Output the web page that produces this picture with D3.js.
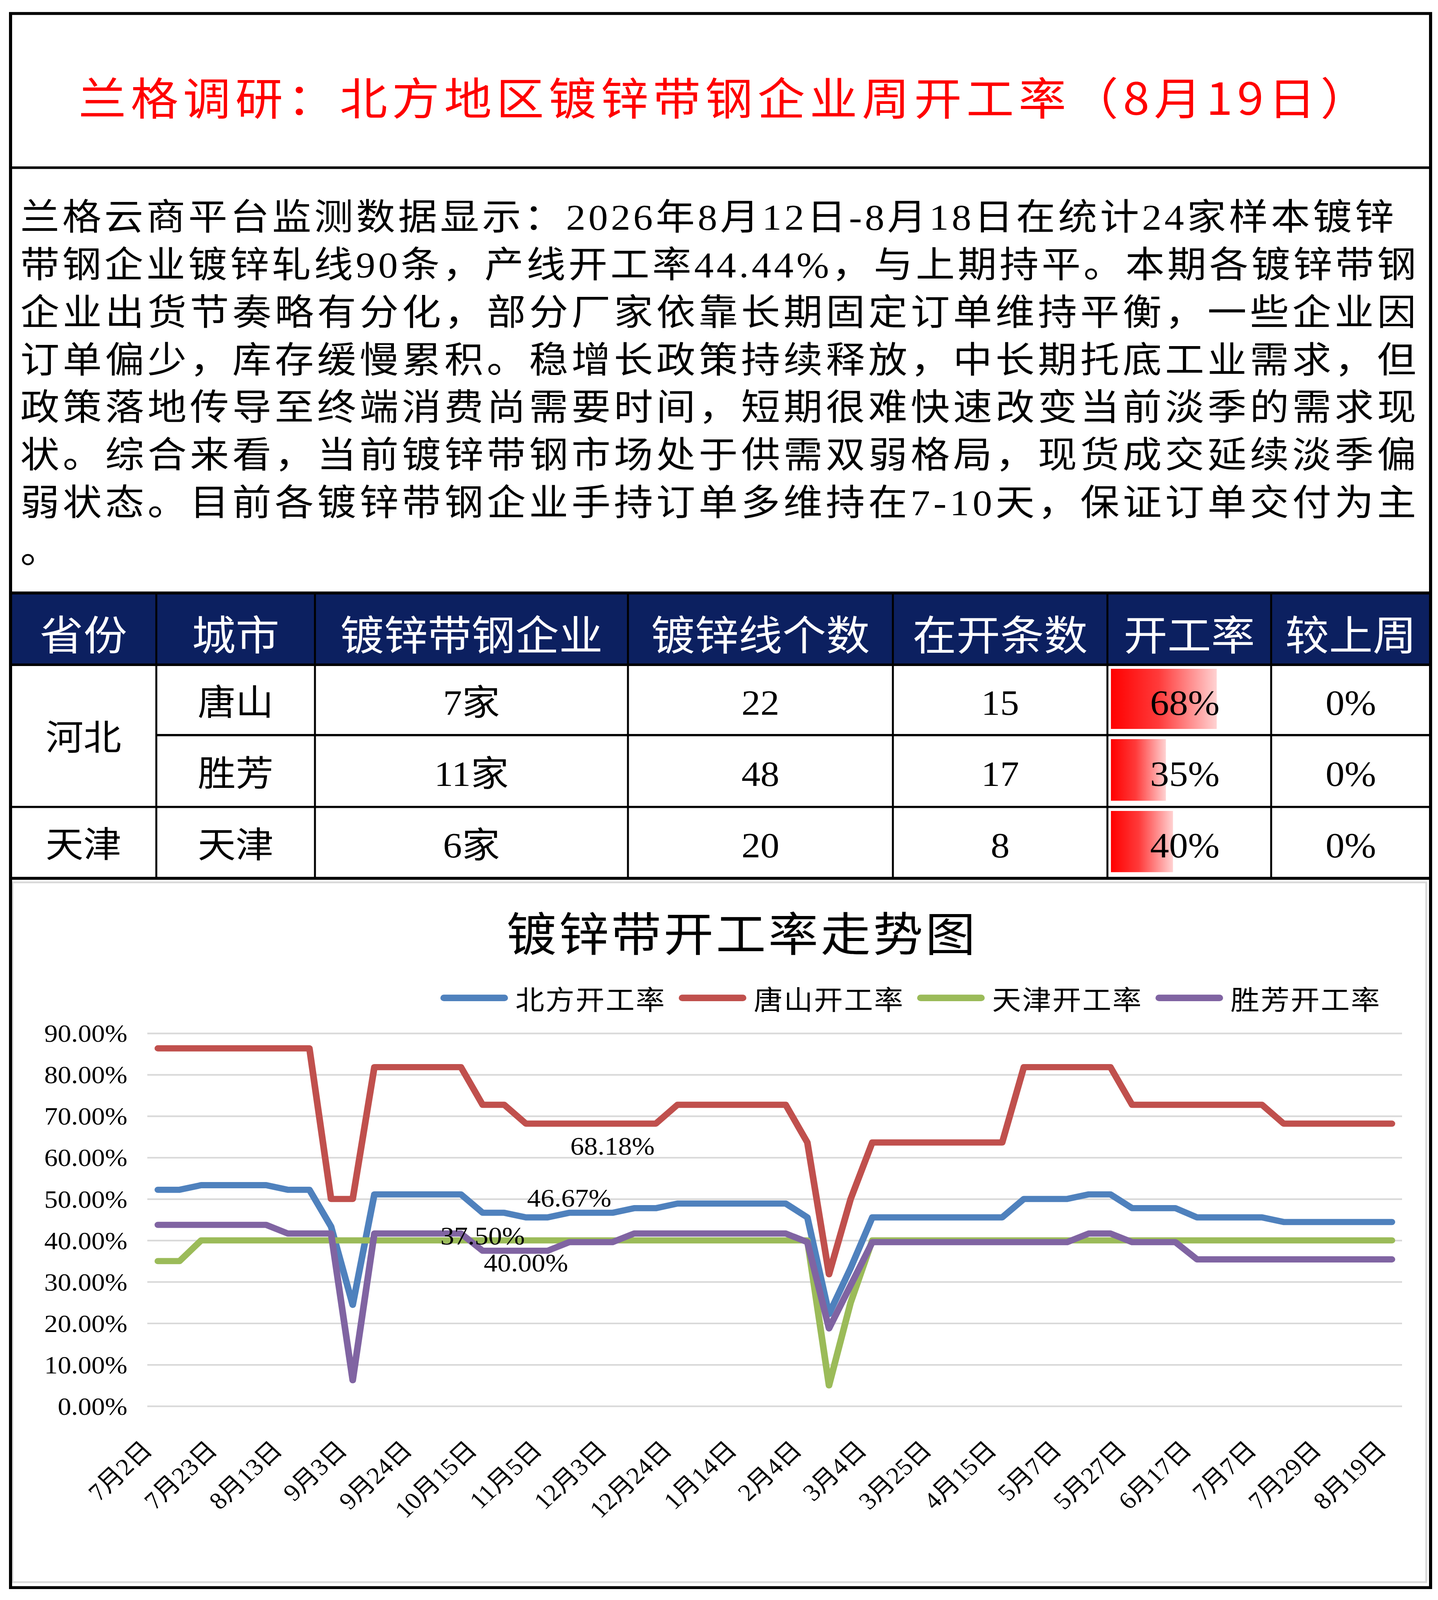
<!DOCTYPE html>
<html><head><meta charset="utf-8">
<script src="https://cdn.jsdelivr.net/npm/d3@7"></script>
<style>
html,body{margin:0;padding:0;background:#fff;width:100%;height:100%;overflow:hidden}
#c{display:block;width:100vw;height:100vh}
</style>
</head><body>
<svg id="c" viewBox="0 0 3680 4390" preserveAspectRatio="none" xmlns="http://www.w3.org/2000/svg"></svg>
<script>
// ---------------- DATA ----------------
const titleText = "兰格调研：北方地区镀锌带钢企业周开工率（8月19日）";
const paragraphLines = [
  "兰格云商平台监测数据显示：2026年8月12日-8月18日在统计24家样本镀锌",
  "带钢企业镀锌轧线90条，产线开工率44.44%，与上期持平。本期各镀锌带钢",
  "企业出货节奏略有分化，部分厂家依靠长期固定订单维持平衡，一些企业因",
  "订单偏少，库存缓慢累积。稳增长政策持续释放，中长期托底工业需求，但",
  "政策落地传导至终端消费尚需要时间，短期很难快速改变当前淡季的需求现",
  "状。综合来看，当前镀锌带钢市场处于供需双弱格局，现货成交延续淡季偏",
  "弱状态。目前各镀锌带钢企业手持订单多维持在7-10天，保证订单交付为主",
  "。"
];
const tableHeaders = ["省份","城市","镀锌带钢企业","镀锌线个数","在开条数","开工率","较上周"];
const provinces = ["河北","天津"];
const provinceRowSpan = [2,1];
const cities = ["唐山","胜芳","天津"];
const companies = ["7家","11家","6家"];
const lineCounts = [22,48,20];
const openCounts = [15,17,8];
const openRates = [0.6818,0.3542,0.40];
const weekChange = ["0%","0%","0%"];

const chartTitle = "镀锌带开工率走势图";
const seriesNames = ["北方开工率","唐山开工率","天津开工率","胜芳开工率"];
const northRate = [52.22,52.22,53.33,53.33,53.33,53.33,52.22,52.22,43.33,24.44,
  51.11,51.11,51.11,51.11,51.11,46.67,46.67,45.56,45.56,46.67,
  46.67,46.67,47.78,47.78,48.89,48.89,48.89,48.89,48.89,48.89,
  45.56,22.22,33.33,45.56,45.56,45.56,45.56,45.56,45.56,45.56,
  50.00,50.00,50.00,51.11,51.11,47.78,47.78,47.78,45.56,45.56,
  45.56,45.56,44.44,44.44,44.44,44.44,44.44,44.44];
const tangshanRate = [86.36,86.36,86.36,86.36,86.36,86.36,86.36,86.36,50.00,50.00,
  81.82,81.82,81.82,81.82,81.82,72.73,72.73,68.18,68.18,68.18,
  68.18,68.18,68.18,68.18,72.73,72.73,72.73,72.73,72.73,72.73,
  63.64,31.82,50.00,63.64,63.64,63.64,63.64,63.64,63.64,63.64,
  81.82,81.82,81.82,81.82,81.82,72.73,72.73,72.73,72.73,72.73,
  72.73,72.73,68.18,68.18,68.18,68.18,68.18,68.18];
const tianjinRate = [35.00,35.00,40.00,40.00,40.00,40.00,40.00,40.00,40.00,40.00,
  40.00,40.00,40.00,40.00,40.00,40.00,40.00,40.00,40.00,40.00,
  40.00,40.00,40.00,40.00,40.00,40.00,40.00,40.00,40.00,40.00,
  40.00,5.00,25.00,40.00,40.00,40.00,40.00,40.00,40.00,40.00,
  40.00,40.00,40.00,40.00,40.00,40.00,40.00,40.00,40.00,40.00,
  40.00,40.00,40.00,40.00,40.00,40.00,40.00,40.00];
const shengfangRate = [43.75,43.75,43.75,43.75,43.75,43.75,41.67,41.67,41.67,6.25,
  41.67,41.67,41.67,41.67,41.67,37.50,37.50,37.50,37.50,39.58,
  39.58,39.58,41.67,41.67,41.67,41.67,41.67,41.67,41.67,41.67,
  39.58,18.75,29.17,39.58,39.58,39.58,39.58,39.58,39.58,39.58,
  39.58,39.58,39.58,41.67,41.67,39.58,39.58,39.58,35.42,35.42,
  35.42,35.42,35.42,35.42,35.42,35.42,35.42,35.42];
const xTickLabels = ["7月2日","7月23日","8月13日","9月3日","9月24日","10月15日","11月5日","12月3日","12月24日","1月14日",
  "2月4日","3月4日","3月25日","4月15日","5月7日","5月27日","6月17日","7月7日","7月29日","8月19日"];
const xTickEvery = 3;
const yTicks = [0,10,20,30,40,50,60,70,80,90];
// data labels: series index, point index, placement
const labelSeries = [1,0,3,2];
const labelPoints = [21,19,15,17];
const labelPlacement = ["below","above","above","below"];

// ---------------- STYLE / LAYOUT ----------------
const seriesColors = ["#4f81bd","#c0504d","#9bbb59","#8064a2"];
const CJK = "'Noto Sans CJK SC', sans-serif";
const MIX = "'Liberation Serif', 'Noto Sans CJK SC', serif";
const W = 3680, H = 4390;
const frameL = 27, frameR = 3661, frameT = 37, frameB = 4356;

const svg = d3.select("#c");
svg.append("rect").attr("width",W).attr("height",H).attr("fill","#fff");

// ---- Title ----
svg.append("text").attr("x",201).attr("y",262)
  .attr("dominant-baseline","central")
  .attr("font-family",CJK).attr("font-size",122).attr("fill","#ff0000")
  .attr("textLength",3300).attr("lengthAdjust","spacing")
  .text(titleText);

// ---- Paragraph ----
const paraTop = 597, paraStep = 130.5;
paragraphLines.forEach((t,i)=>{
  const el = svg.append("text").attr("x",52).attr("y",paraTop + i*paraStep)
    .attr("dominant-baseline","central")
    .attr("font-family",MIX).attr("font-size",100).attr("fill","#000")
    .text(t);
  if (i === 0) el.attr("textLength",3515).attr("lengthAdjust","spacing");
  else if (i < paragraphLines.length-1) el.attr("textLength",3572).attr("lengthAdjust","spacing");
});

// ---- Table ----
const colEdges = [frameL,400,806,1607,2285,2834,3253,frameR];
const headTop = 1627, headBottom = 1824;
const rowEdges = [1824,2017,2214,2410];
const navy = "#0c2060";
svg.append("rect").attr("x",frameL).attr("y",headTop).attr("width",frameR-frameL)
  .attr("height",headBottom-headTop).attr("fill",navy);
const colCenter = i => (colEdges[i]+colEdges[i+1])/2;
tableHeaders.forEach((h,i)=>{
  svg.append("text").attr("x",colCenter(i)).attr("y",1734)
    .attr("text-anchor","middle").attr("dominant-baseline","central")
    .attr("font-family",CJK).attr("font-size",112).attr("fill","#fff").text(h);
});
const rowCenter = r => (rowEdges[r]+rowEdges[r+1])/2 + 8;
let rAcc = 0;
provinces.forEach((p,i)=>{
  const top = rowEdges[rAcc], bot = rowEdges[rAcc+provinceRowSpan[i]];
  svg.append("text").attr("x",colCenter(0)).attr("y",(top+bot)/2+6)
    .attr("text-anchor","middle").attr("dominant-baseline","central")
    .attr("font-family",MIX).attr("font-size",97).attr("fill","#000").text(p);
  rAcc += provinceRowSpan[i];
});
// data bars
const barScale = d3.scaleLinear().domain([0,1]).range([0,397]);
const defs = svg.append("defs");
const grad = defs.append("linearGradient").attr("id","barGrad")
  .attr("x1","0").attr("x2","1").attr("y1","0").attr("y2","0");
grad.append("stop").attr("offset","0").attr("stop-color","#ff0000");
grad.append("stop").attr("offset","0.45").attr("stop-color","#ff3a3a");
grad.append("stop").attr("offset","1").attr("stop-color","#ffd2d2");
svg.selectAll("rect.bar").data(openRates).enter().append("rect").attr("class","bar")
  .attr("x",2843).attr("y",(d,i)=>rowEdges[i]+11)
  .attr("width",d=>barScale(d)).attr("height",(d,i)=>rowEdges[i+1]-rowEdges[i]-28)
  .attr("fill","url(#barGrad)");
const cellText = (col,row,txt,anchor,x) => svg.append("text")
  .attr("x", x!==undefined ? x : colCenter(col)).attr("y",rowCenter(row))
  .attr("text-anchor",anchor||"middle").attr("dominant-baseline","central")
  .attr("font-family",MIX).attr("font-size",97).attr("fill","#000").text(txt);
const pctFmt = d3.format(".0%");
cities.forEach((c,i)=>{
  cellText(1,i,c);
  cellText(2,i,companies[i]);
  cellText(3,i,String(lineCounts[i]));
  cellText(4,i,String(openCounts[i]));
  cellText(5,i,pctFmt(openRates[i]),"end",3121);
  cellText(6,i,weekChange[i]);
});
const ln = (x1,y1,x2,y2,w,c) => svg.append("line").attr("x1",x1).attr("y1",y1)
  .attr("x2",x2).attr("y2",y2).attr("stroke",c||"#000").attr("stroke-width",w);
colEdges.slice(1,-1).forEach(x=>ln(x,headTop,x,2410,5));
ln(frameL,headTop,frameR,headTop,8);
ln(frameL,headBottom,frameR,headBottom,7);
ln(400,2017,frameR,2017,6);
ln(frameL,2214,frameR,2214,6);
ln(frameL,2410,frameR,2410,8);
ln(frameL,460,frameR,460,7);

// ---- Chart ----
svg.append("rect").attr("x",32).attr("y",2421).attr("width",3618).attr("height",1920)
  .attr("fill","none").attr("stroke","#d9d9d9").attr("stroke-width",5);

svg.append("text").attr("x",1896).attr("y",2554)
  .attr("text-anchor","middle").attr("dominant-baseline","central")
  .attr("font-family",CJK).attr("font-size",128).attr("fill","#000")
  .attr("textLength",1200).attr("lengthAdjust","spacing").text(chartTitle);

const legendX0 = 1126, legendStep = 610, legendY = 2738;
seriesNames.forEach((n,i)=>{
  const lx = legendX0 + i*legendStep;
  svg.append("line").attr("x1",lx+10).attr("x2",lx+165).attr("y1",legendY).attr("y2",legendY)
    .attr("stroke",seriesColors[i]).attr("stroke-width",18).attr("stroke-linecap","round");
  svg.append("text").attr("x",lx+193).attr("y",legendY)
    .attr("dominant-baseline","central")
    .attr("font-family",CJK).attr("font-size",74).attr("fill","#000")
    .attr("textLength",382).attr("lengthAdjust","spacing").text(n);
});

const plotLeft = 377, plotRight = 3588, plotTop = 2835, plotBottom = 3858;
const allSeries = [northRate, tangshanRate, tianjinRate, shengfangRate];
const nPts = northRate.length;
const x = d3.scaleLinear().domain([0,nPts-1]).range([404,3562]);
const y = d3.scaleLinear().domain([0,90]).range([plotBottom,plotTop]);

const yAxis = svg.append("g").attr("transform",`translate(${plotLeft},0)`)
  .call(d3.axisLeft(y).tickValues(yTicks).tickSize(-(plotRight-plotLeft)).tickPadding(51)
    .tickFormat(d=>d3.format(".2f")(d)+"%"));
yAxis.select(".domain").remove();
yAxis.selectAll(".tick line").attr("stroke","#d9d9d9").attr("stroke-width",4.5);
yAxis.selectAll(".tick text").attr("font-family",MIX).attr("font-size",69).attr("fill","#000")
  .attr("dy",null).attr("dominant-baseline","central");

const xTickVals = d3.range(0,nPts,xTickEvery);
const xAxis = svg.append("g").attr("transform",`translate(0,${plotBottom})`)
  .call(d3.axisBottom(x).tickValues(xTickVals).tickSize(0)
    .tickFormat((d,i)=>xTickLabels[i]));
xAxis.select(".domain").remove();
xAxis.selectAll(".tick text").attr("font-family",MIX).attr("font-size",66).attr("fill","#000")
  .attr("y",null).attr("dy",null).attr("text-anchor","end").attr("dominant-baseline","central")
  .attr("transform","translate(-27,108) rotate(-45)");

const lineGen = d3.line().x((d,i)=>x(i)).y(d=>y(d));
allSeries.forEach((s,k)=>{
  svg.append("path").datum(s).attr("d",lineGen).attr("fill","none")
    .attr("stroke",seriesColors[k]).attr("stroke-width",17)
    .attr("stroke-linejoin","round").attr("stroke-linecap","round");
});

labelSeries.forEach((sIdx,j)=>{
  const pi = labelPoints[j];
  const v = allSeries[sIdx][pi];
  const off = labelPlacement[j]==="above" ? -40 : 62;
  svg.append("text").attr("x",x(pi)).attr("y",y(v)+off)
    .attr("text-anchor","middle").attr("dominant-baseline","central")
    .attr("font-family",MIX).attr("font-size",70).attr("fill","#000")
    .text(d3.format(".2f")(v)+"%");
});

svg.append("rect").attr("x",frameL).attr("y",frameT).attr("width",frameR-frameL)
  .attr("height",frameB-frameT).attr("fill","none").attr("stroke","#000").attr("stroke-width",8);
</script>
</body></html>
